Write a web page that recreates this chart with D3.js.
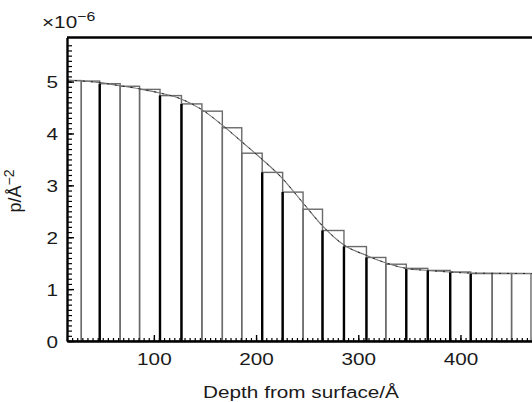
<!DOCTYPE html>
<html>
<head>
<meta charset="utf-8">
<script src="https://cdn.jsdelivr.net/npm/d3@7"></script>
<style>
  body { margin: 0; background: #fff; }
  svg { display: block; }
  svg text { font-family: "Liberation Sans", Arial, sans-serif; }
</style>
</head>
<body>
<svg id="chart" width="532" height="402"></svg>
<script>
// slab boundaries (Å) and slab values (x1e-6 Å^-2)
const depthEdges = [10, 29, 47, 67, 86, 106, 127, 147, 167, 186, 206, 226, 246, 265, 286, 308, 327, 347, 368, 390, 410, 431, 450, 469];
const layerSLD = [5.02, 5.01, 4.96, 4.91, 4.85, 4.73, 4.57, 4.43, 4.11, 3.62, 3.25, 2.87, 2.54, 2.13, 1.82, 1.61, 1.48, 1.40, 1.36, 1.33, 1.30, 1.30, 1.30];
const thickEdges = [47, 106, 127, 206, 226, 265, 286, 308, 347, 368, 390, 410];

// smooth profile
const profileDepth = [15, 47, 67, 86, 106, 126, 147, 167, 186, 206, 225, 246, 265, 286, 308, 328, 347, 368, 389, 409, 470];
const profileSLD = [5.03, 4.98, 4.92, 4.86, 4.78, 4.67, 4.46, 4.16, 3.84, 3.50, 3.15, 2.66, 2.22, 1.85, 1.65, 1.50, 1.40, 1.36, 1.33, 1.31, 1.30];

const yTicks = [0, 1, 2, 3, 4, 5];
const xTicks = [100, 200, 300, 400];

const plotLeft = 67, plotRight = 532, plotTop = 37.5, plotBottom = 341;
const stretch = 1.22;
const font = '"Liberation Sans", Arial, sans-serif';

const svg = d3.select('#chart');

const x = d3.scaleLinear().domain([15, 470]).range([plotLeft, plotRight]);
const y = d3.scaleLinear().domain([0, 5.85]).range([plotBottom, plotTop]);

svg.append('clipPath').attr('id', 'plot')
    .append('rect')
    .attr('x', plotLeft).attr('y', plotTop)
    .attr('width', plotRight - plotLeft).attr('height', plotBottom - plotTop);

const layers = layerSLD.map((v, i) => ({ x0: depthEdges[i], x1: depthEdges[i + 1], v: v }));

const plot = svg.append('g').attr('clip-path', 'url(#plot)');

plot.selectAll('rect.slab')
    .data(layers)
    .join('rect')
    .attr('class', 'slab')
    .attr('x', d => x(d.x0))
    .attr('y', d => y(d.v))
    .attr('width', d => x(d.x1) - x(d.x0))
    .attr('height', d => y(0) - y(d.v))
    .attr('fill', 'none')
    .attr('stroke', '#6a6a6a')
    .attr('stroke-width', 1.4);

// heavier edges drawn in black
plot.selectAll('line.edge')
    .data(thickEdges)
    .join('line')
    .attr('class', 'edge')
    .attr('x1', d => x(d)).attr('x2', d => x(d))
    .attr('y1', y(0))
    .attr('y2', d => {
        const i = depthEdges.indexOf(d);
        return y(Math.min(layerSLD[i - 1], layerSLD[i]));
    })
    .attr('stroke', '#000')
    .attr('stroke-width', 2.4);

const line = d3.line()
    .x((d, i) => x(profileDepth[i]))
    .y(d => y(d))
    .curve(d3.curveMonotoneX);

plot.append('path')
    .datum(profileSLD)
    .attr('d', line)
    .attr('fill', 'none')
    .attr('stroke', '#777')
    .attr('stroke-width', 1.1);

plot.append('path')
    .datum(profileSLD)
    .attr('d', line)
    .attr('fill', 'none')
    .attr('stroke', '#222')
    .attr('stroke-width', 1)
    .attr('stroke-dasharray', '2,6');

// y axis: minor then major ticks
svg.append('g')
    .attr('transform', `translate(${plotLeft},0)`)
    .call(d3.axisLeft(y).tickValues(d3.range(0, 58).map(d => d / 10)).tickSizeInner(-5).tickSizeOuter(0).tickFormat(''))
    .call(g => g.select('.domain').remove())
    .call(g => g.selectAll('line').attr('stroke', '#000').attr('stroke-width', 1.2));

svg.append('g')
    .attr('transform', `translate(${plotLeft},0)`)
    .attr('font-family', font)
    .call(d3.axisLeft(y).tickValues(yTicks).tickFormat(d3.format('d')).tickSizeInner(-7).tickSizeOuter(0))
    .call(g => g.select('.domain').attr('stroke', '#000').attr('stroke-width', 2.4))
    .call(g => g.selectAll('line').attr('stroke', '#000').attr('stroke-width', 1.4))
    .call(g => g.selectAll('text')
        .attr('font-size', 17)
        .attr('fill', '#1a1a1a')
        .attr('x', -9 / stretch)
        .attr('dy', '0.36em')
        .attr('transform', `scale(${stretch},1)`));

// x axis: minor then major ticks
svg.append('g')
    .attr('transform', `translate(0,${plotBottom})`)
    .call(d3.axisBottom(x).tickValues(d3.range(15, 471, 5)).tickSizeInner(-3).tickSizeOuter(0).tickFormat(''))
    .call(g => g.select('.domain').remove())
    .call(g => g.selectAll('line').attr('stroke', '#000').attr('stroke-width', 1.2));

svg.append('g')
    .attr('transform', `translate(0,${plotBottom})`)
    .attr('font-family', font)
    .call(d3.axisBottom(x).tickValues(xTicks).tickSizeInner(-6).tickSizeOuter(0))
    .call(g => g.select('.domain').attr('stroke', '#000').attr('stroke-width', 2.4))
    .call(g => g.selectAll('line').attr('stroke', '#000').attr('stroke-width', 1.4))
    .call(g => g.selectAll('text')
        .attr('font-size', 17)
        .attr('fill', '#1a1a1a')
        .attr('y', 24)
        .attr('dy', 0)
        .attr('transform', `scale(${stretch},1)`));

// top frame
svg.append('line')
    .attr('x1', plotLeft).attr('x2', plotRight)
    .attr('y1', plotTop).attr('y2', plotTop)
    .attr('stroke', '#000').attr('stroke-width', 2.4);

// exponent label
const expo = svg.append('text')
    .attr('transform', `translate(42,28) scale(${stretch},1)`)
    .attr('font-size', 17)
    .attr('fill', '#1a1a1a');
expo.append('tspan').text('×10');
expo.append('tspan').attr('font-size', 13).attr('dy', -7).text('−6');

// axis titles
svg.append('text')
    .attr('transform', `translate(301,397.5) scale(${stretch},1)`)
    .attr('text-anchor', 'middle')
    .attr('font-size', 17)
    .attr('fill', '#1a1a1a')
    .text('Depth from surface/Å');

const ytitle = svg.append('text')
    .attr('transform', 'translate(21,191) rotate(-90)')
    .attr('text-anchor', 'middle')
    .attr('font-size', 18)
    .attr('fill', '#1a1a1a');
ytitle.append('tspan').text('p/Å');
ytitle.append('tspan').attr('font-size', 14).attr('dy', -7).text('−2');
</script>
</body>
</html>
